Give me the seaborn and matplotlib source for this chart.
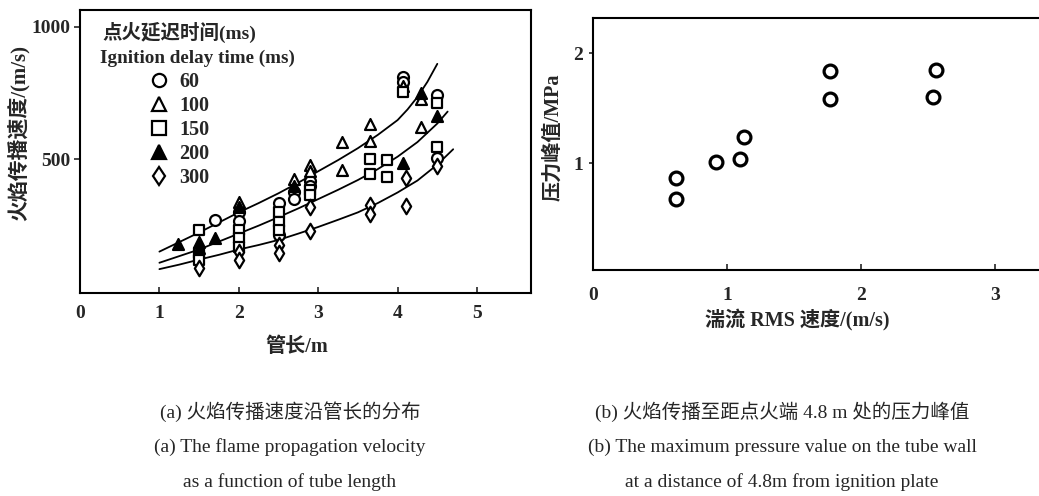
import numpy as np
import pandas as pd
import matplotlib
matplotlib.use("Agg")
import matplotlib.pyplot as plt
from matplotlib.lines import Line2D
import seaborn as sns

# ---- (a) flame propagation velocity vs tube length, by ignition delay time ----
x_60 = [1.70, 2.0, 2.0, 2.5, 2.5, 2.7, 2.7, 2.9, 2.9, 4.07, 4.07, 4.5, 4.5]
y_60 = [271, 300, 268, 335, 215, 375, 350, 420, 400, 810, 790, 743, 505]

x_100 = [2.0, 2.7, 2.9, 2.9, 3.3, 3.3, 3.65, 3.65, 4.07, 4.3, 4.3]
y_100 = [338, 425, 480, 455, 567, 460, 635, 570, 775, 728, 623]

x_150 = [1.5, 1.5, 1.5, 2.0, 2.0, 2.0, 2.5, 2.5, 2.5, 2.9, 2.9,
         3.65, 3.65, 3.87, 3.87, 4.07, 4.5, 4.5]
y_150 = [234, 146, 120, 232, 205, 170, 300, 265, 235, 385, 365,
         500, 445, 498, 432, 755, 711, 546]

x_200 = [1.24, 1.5, 1.5, 1.70, 2.0, 2.7, 4.07, 4.3, 4.5]
y_200 = [180, 190, 165, 203, 320, 400, 487, 750, 662]

x_300 = [1.5, 2.0, 2.0, 2.5, 2.5, 2.9, 2.9, 3.65, 3.65, 4.1, 4.1, 4.5]
y_300 = [92, 150, 120, 177, 147, 322, 228, 328, 292, 430, 325, 473]

# fitted trend curves
curve_up_x = [1.0, 1.25, 1.5, 1.75, 2.0, 2.25, 2.5, 2.75, 3.0, 3.25, 3.5, 3.75,
              4.0, 4.125, 4.25, 4.375, 4.5]
curve_up_y = [152, 188, 224, 262, 300, 335, 372, 412, 455, 497, 542, 592,
              648, 688, 735, 792, 860]
curve_mid_x = [1.0, 1.25, 1.5, 1.75, 2.0, 2.25, 2.5, 2.75, 3.0, 3.25, 3.5, 3.75,
               4.0, 4.25, 4.5, 4.63]
curve_mid_y = [110, 135, 160, 190, 220, 250, 282, 315, 350, 385, 422, 463,
               510, 565, 635, 680]
curve_low_x = [1.0, 1.25, 1.5, 1.75, 2.0, 2.25, 2.5, 2.75, 3.0, 3.25, 3.5, 3.75,
               4.0, 4.25, 4.5, 4.7]
curve_low_y = [86, 103, 122, 140, 160, 177, 196, 220, 245, 272, 300, 335,
               375, 420, 480, 538]

delay_labels = ["60", "100", "150", "200", "300"]

# ---- (b) peak pressure at 4.8 m vs turbulent RMS velocity ----
rms_speed = [0.62, 0.62, 0.92, 1.10, 1.13, 1.77, 1.77, 2.56, 2.54]
peak_pressure = [0.86, 0.67, 1.01, 1.04, 1.24, 1.84, 1.58, 1.85, 1.60]

sns.set_style("ticks")
plt.rcParams["font.family"] = ["Liberation Serif", "Noto Sans CJK SC", "DejaVu Sans"]
plt.rcParams["axes.linewidth"] = 1.5
plt.rcParams["xtick.major.width"] = 1.2
plt.rcParams["ytick.major.width"] = 1.2

MIXED = ["Liberation Serif", "Noto Sans CJK SC"]

fig = plt.figure(figsize=(10.39, 4.96), dpi=100)
W, H = 1039, 496


def axes_px(left, top, right, bottom):
    return fig.add_axes([left / W, 1 - bottom / H, (right - left) / W, (bottom - top) / H])


# ================= panel (a) =================
ax1 = axes_px(80, 10, 531, 293)
for spine in ax1.spines.values():
    spine.set_visible(True)
    spine.set_color("black")

series = [
    (x_60, y_60, "o", "white", "60"),
    (x_100, y_100, "^", "white", "100"),
    (x_150, y_150, "s", "white", "150"),
    (x_200, y_200, "^", "black", "200"),
    (x_300, y_300, "d", "white", "300"),
]
for xs, ys, mk, fc, lab in series:
    df = pd.DataFrame({"L": xs, "v": ys})
    sns.scatterplot(data=df, x="L", y="v", marker=mk, s=62, facecolor=fc,
                    edgecolor="black", linewidth=1.6, ax=ax1, zorder=3)

for cx, cy in [(curve_up_x, curve_up_y), (curve_mid_x, curve_mid_y), (curve_low_x, curve_low_y)]:
    dfc = pd.DataFrame({"L": cx, "v": cy})
    sns.lineplot(data=dfc, x="L", y="v", estimator=None, sort=False,
                 color="black", linewidth=1.3, ax=ax1, zorder=2)

ax1.set_xlim(0.04, 5.68)
ax1.set_ylim(-4, 1063)
ax1.set_xticks([0, 1, 2, 3, 4, 5])
ax1.set_xticklabels(["0", "1", "2", "3", "4", "5"])
ax1.set_yticks([500, 1000])
ax1.set_yticklabels(["500", "1000"])
ax1.tick_params(axis="x", direction="in", length=4, pad=9, labelsize=14)
ax1.tick_params(axis="y", direction="out", length=4, pad=3, labelsize=14)
for t in ax1.get_xticklabels() + ax1.get_yticklabels():
    t.set_fontweight("bold")
ax1.set_xlabel("")
ax1.set_ylabel("")

# legend
handles = [Line2D([], [], linestyle="none", marker=mk, markersize=9.5,
                  markerfacecolor=fc, markeredgecolor="black", markeredgewidth=1.6)
           for _, _, mk, fc, _ in series]
leg = ax1.legend(handles, delay_labels, loc="upper left",
                 bbox_to_anchor=(149 / W, 1 - 72 / H), bbox_transform=fig.transFigure,
                 frameon=False, handlelength=1.0, handletextpad=0.5,
                 labelspacing=0.2, borderpad=0, borderaxespad=0,
                 prop={"family": "Liberation Serif", "weight": "bold", "size": 14.5})
fig.text(102 / W, 1 - 32 / H, "点火延迟时间(ms)", family=MIXED, fontweight="bold",
         fontsize=14, ha="left", va="center")
fig.text(100 / W, 1 - 58 / H, "Ignition delay time (ms)", family=MIXED, fontweight="bold",
         fontsize=13.8, ha="left", va="center")

fig.text(18 / W, 1 - 133 / H, "火焰传播速度/(m/s)", family=MIXED, fontweight="bold",
         fontsize=15, rotation=90, ha="center", va="center")
fig.text(297 / W, 1 - 347 / H, "管长/m", family=MIXED, fontweight="bold",
         fontsize=14.5, ha="center", va="center")

# ================= panel (b) =================
ax2 = axes_px(593, 18, 1046, 270)
for spine in ax2.spines.values():
    spine.set_visible(True)
    spine.set_color("black")
dfp = pd.DataFrame({"u": rms_speed, "p": peak_pressure})
sns.scatterplot(data=dfp, x="u", y="p", marker="o", s=85, facecolor="white",
                edgecolor="black", linewidth=2.3, ax=ax2, zorder=3)
ax2.set_xlim(0.03, 3.38)
ax2.set_ylim(0.027, 2.32)
ax2.set_xticks([0, 1, 2, 3])
ax2.set_xticklabels(["0", "1", "2", "3"])
ax2.set_yticks([1, 2])
ax2.set_yticklabels(["1", "2"])
ax2.tick_params(axis="x", direction="in", length=4, pad=12, labelsize=14)
ax2.tick_params(axis="y", direction="out", length=3, pad=4, labelsize=14)
for t in ax2.get_xticklabels() + ax2.get_yticklabels():
    t.set_fontweight("bold")
ax2.set_xlabel("")
ax2.set_ylabel("")

fig.text(553 / W, 1 - 137 / H, "压力峰值/MPa", family=MIXED, fontweight="bold",
         fontsize=14.5, rotation=90, ha="center", va="center")
fig.text(797 / W, 1 - 320 / H, "湍流 RMS 速度/(m/s)", family=MIXED, fontweight="bold",
         fontsize=14.5, ha="center", va="center")

# ================= captions =================
cap = dict(family=MIXED, fontsize=14, ha="center", va="center")
fig.text(290 / W, 1 - 412 / H, "(a) 火焰传播速度沿管长的分布", **cap)
fig.text(290 / W, 1 - 447 / H, "(a) The flame propagation velocity", **cap)
fig.text(290 / W, 1 - 482 / H, "as a function of tube length", **cap)
fig.text(782 / W, 1 - 412 / H, "(b) 火焰传播至距点火端 4.8 m 处的压力峰值", **cap)
fig.text(782 / W, 1 - 447 / H, "(b) The maximum pressure value on the tube wall", **cap)
fig.text(782 / W, 1 - 482 / H, "at a distance of 4.8m from ignition plate", **cap)

fig.savefig("out.png", dpi=100, facecolor="white")
